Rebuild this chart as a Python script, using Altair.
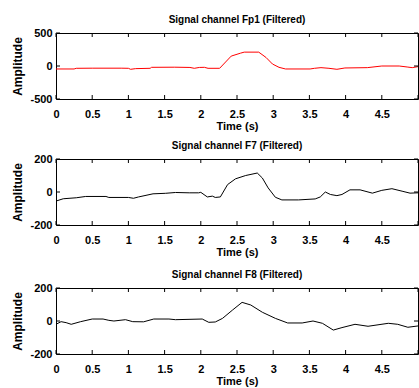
import altair as alt
import pandas as pd

# ---- data ----
t_fp1 = [0.0, 0.25, 0.28, 0.5, 0.9, 1.0, 1.03, 1.1, 1.3, 1.32, 1.64, 1.85, 1.91, 1.98, 2.05, 2.1,
         2.26, 2.42, 2.55, 2.6, 2.8, 2.9, 2.99, 3.08, 3.17, 3.51, 3.57, 3.66, 3.77, 3.88, 3.99,
         4.3, 4.5, 4.74, 4.85, 4.92, 5.0]
v_fp1 = [-45, -45, -35, -33, -33, -35, -50, -40, -35, -20, -18, -22, -35, -22, -20, -35,
         -35, 150, 195, 210, 210, 130, 30, -20, -45, -45, -35, -25, -35, -50, -30,
         -25, 0, 0, -15, -25, -10]

t_f7 = [0.0, 0.1, 0.28, 0.41, 0.69, 0.73, 1.0, 1.07, 1.14, 1.34, 1.51, 1.65, 1.84, 1.97, 2.0,
        2.09, 2.16, 2.2, 2.27, 2.37, 2.48, 2.62, 2.78, 2.85, 2.93, 3.03, 3.12, 3.35, 3.58, 3.65,
        3.72, 3.79, 3.88, 3.95, 4.06, 4.2, 4.37, 4.5, 4.64, 4.78, 4.89, 5.0]
v_f7 = [-55, -41, -35, -27, -27, -33, -33, -38, -30, -11, -8, -3, -5, -5, -2,
        -30, -25, -33, -30, 45, 80, 100, 115, 85, 25, -32, -48, -48, -42, -30,
        0, -15, -22, -15, 13, 13, -7, 10, 20, 5, -7, -5]

t_f8 = [0.0, 0.07, 0.14, 0.21, 0.34, 0.5, 0.65, 0.73, 0.8, 0.96, 1.06, 1.21, 1.35, 1.56, 1.65,
        2.02, 2.11, 2.2, 2.3, 2.44, 2.57, 2.69, 2.85, 3.03, 3.2, 3.4, 3.55, 3.68, 3.83, 3.95,
        4.13, 4.31, 4.59, 4.72, 4.86, 5.0]
v_f8 = [-20, -4, -10, -20, -4, 12, 12, 4, 0, 8, -4, -5, 12, 12, 8,
        12, -8, -6, 16, 67, 113, 97, 53, 16, -12, -12, 0, -14, -55, -40,
        -20, -32, -14, -20, -38, -30]

x_ticks = [0, 0.5, 1, 1.5, 2, 2.5, 3, 3.5, 4, 4.5, 5]
titles = ["Signal channel Fp1 (Filtered)", "Signal channel F7 (Filtered)", "Signal channel F8 (Filtered)"]

FONT = "Liberation Sans, Arial, sans-serif"
W, H = 362, 66
TICK = 4


def panel(t, v, color, title, lim):
    y_ticks = [-lim, 0, lim]
    xs = alt.Scale(domain=[0, 5], nice=False, zero=False)
    ys = alt.Scale(domain=[-lim, lim], nice=False)
    xaxis = alt.Axis(
        values=x_ticks, title="Time (s)",
        labelExpr="datum.value == 5 ? '' : datum.value + ''",
        ticks=False, domain=False, grid=False, labelPadding=9, titlePadding=1,
        labelFontSize=11, titleFontSize=11, labelFont=FONT, titleFont=FONT,
        labelFontWeight="bold", titleFontWeight="bold", labelColor="black",
        titleColor="black", labelFlush=False, labelOverlap=False)
    yaxis = alt.Axis(
        values=y_ticks, title="Amplitude", labelExpr="datum.value + ''",
        ticks=False, domain=False, grid=False, labelPadding=4, titlePadding=5,
        labelFontSize=11, titleFontSize=12, labelFont=FONT, titleFont=FONT,
        labelFontWeight="bold", titleFontWeight="bold", labelColor="black",
        titleColor="black", labelFlush=False, labelOverlap=False)
    X = lambda: alt.X("t:Q", scale=xs, axis=xaxis, title="Time (s)")
    Y = lambda: alt.Y("v:Q", scale=ys, axis=yaxis, title="Amplitude")

    df = pd.DataFrame({"t": t, "v": v})
    line = alt.Chart(df).mark_line(color=color, strokeWidth=1, clip=True).encode(x=X(), y=Y())
    xt = pd.DataFrame({"t": x_ticks})
    top_ticks = alt.Chart(xt).mark_rule(color="black", strokeWidth=1).encode(
        x=X(), y=alt.value(0), y2=alt.value(TICK))
    bot_ticks = alt.Chart(xt).mark_rule(color="black", strokeWidth=1).encode(
        x=X(), y=alt.value(H), y2=alt.value(H - TICK))
    yt = pd.DataFrame({"v": y_ticks})
    left_ticks = alt.Chart(yt).mark_rule(color="black", strokeWidth=1).encode(
        y=Y(), x=alt.value(0), x2=alt.value(TICK))
    right_ticks = alt.Chart(yt).mark_rule(color="black", strokeWidth=1).encode(
        y=Y(), x=alt.value(W), x2=alt.value(W - TICK))
    return alt.layer(line, top_ticks, bot_ticks, left_ticks, right_ticks).properties(
        width=W, height=H,
        title=alt.TitleParams(title, font=FONT, fontSize=10, fontWeight="bold",
                              color="black", offset=2, anchor="middle"))


p1 = panel(t_fp1, v_fp1, "#ff0000", titles[0], 500)
p2 = panel(t_f7, v_f7, "black", titles[1], 200)
p3 = panel(t_f8, v_f8, "black", titles[2], 200)

top_two = alt.vconcat(p1, p2, spacing=8)
chart = alt.vconcat(top_two, p3, spacing=11).properties(
    padding={"left": 11, "top": 14, "right": 0, "bottom": 2},
    background="white",
).configure_view(stroke="black", strokeWidth=1).configure_axis(labelOverlap=False)

chart.save("out.html", embed_options={"renderer": "svg", "actions": False})
